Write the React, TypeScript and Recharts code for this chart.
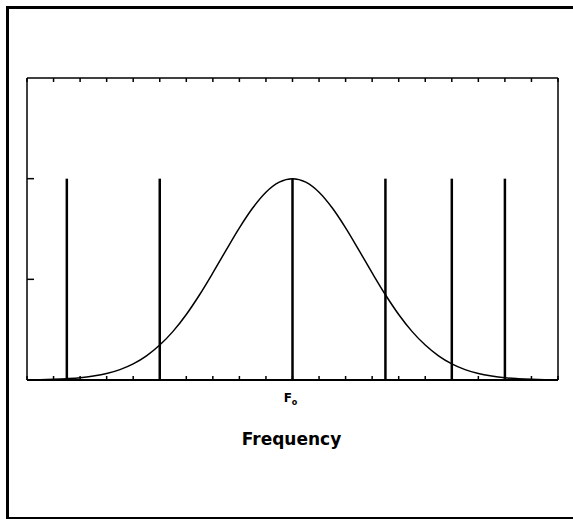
import { LineChart, Line, XAxis, YAxis, ReferenceLine } from 'recharts'

// curve, every half unit of frequency
const curveX = [0, 0.5, 1, 1.5, 2, 2.5, 3, 3.5, 4, 4.5, 5, 5.5, 6, 6.5, 7, 7.5, 8, 8.5, 9, 9.5, 10,
  10.5, 11, 11.5, 12, 12.5, 13, 13.5, 14, 14.5, 15, 15.5, 16, 16.5, 17, 17.5, 18, 18.5, 19, 19.5, 20]
const curveY = [0.001, 0.003, 0.007, 0.013, 0.022, 0.039, 0.064, 0.103, 0.16, 0.24, 0.347, 0.483, 0.651, 0.847, 1.064, 1.29, 1.511, 1.708, 1.865, 1.965, 2,
  1.965, 1.865, 1.708, 1.511, 1.29, 1.064, 0.847, 0.651, 0.483, 0.347, 0.24, 0.16, 0.103, 0.064, 0.039, 0.022, 0.013, 0.007, 0.003, 0.001]

const lineX = [1.5, 5, 10, 13.5, 16, 18]
const lineTop = 2

const xTicks = [0, 1, 2, 3, 4, 5, 6, 7, 8, 9, 10, 11, 12, 13, 14, 15, 16, 17, 18, 19, 20]
const yTicks = [1, 2]
const centerTick = 10

const data = curveX.map((x, i) => ({ x, y: curveY[i] }))

const FTick = ({ x, y, payload }: any) => {
  if (payload.value !== centerTick) return <g />
  return (
    <text x={x - 2} y={y + 24} textAnchor="middle" fontFamily="DejaVu Sans, sans-serif" fontWeight="bold" fontSize={12} fill="#000">
      F<tspan dy={3} fontSize={8}>o</tspan>
    </text>
  )
}

// tick marks only, no labels
const NoLabel = () => <g />

const frame = { stroke: '#000', strokeWidth: 1.5 }

export default function App() {
  return (
    <div style={{ position: 'absolute', left: 0, top: 0, width: 573, height: 519, overflow: 'hidden', background: '#fff' }}>
      <div style={{ position: 'absolute', left: 6, top: 6, width: 575, height: 508, borderLeft: '3px solid #000', borderTop: '3px solid #000', borderBottom: '2px solid #000' }} />
      <LineChart width={573} height={519} data={data} margin={{ top: 70, right: 7, bottom: 109, left: 19 }} style={{ position: 'absolute', left: 0, top: 0 }}>
        <XAxis dataKey="x" type="number" domain={[0, 20]} ticks={xTicks} height={30} interval={0}
          axisLine={{ stroke: '#000', strokeWidth: 2 }} tickLine={frame} tickSize={-4} tick={<FTick />} />
        <XAxis xAxisId="top" orientation="top" dataKey="x" type="number" domain={[0, 20]} ticks={xTicks} height={8} interval={0}
          axisLine={frame} tickLine={frame} tickSize={-4} tick={<NoLabel />} />
        <YAxis type="number" domain={[0, 3]} ticks={yTicks} width={8} interval={0}
          axisLine={frame} tickLine={frame} tickSize={-7} tick={<NoLabel />} />
        <YAxis yAxisId="right" orientation="right" type="number" domain={[0, 3]} ticks={yTicks} width={8} interval={0}
          axisLine={frame} tickLine={frame} tickSize={-6} tick={<NoLabel />} />
        {lineX.map(v => (
          <ReferenceLine key={v} segment={[{ x: v, y: 0 }, { x: v, y: lineTop }]} stroke="#000" strokeWidth={2.5} />
        ))}
        <Line type="monotone" dataKey="y" stroke="#000" strokeWidth={1.5} dot={false} isAnimationActive={false} />
      </LineChart>
      <div style={{ position: 'absolute', left: 0, width: 583, top: 429, textAlign: 'center', fontFamily: 'DejaVu Sans, sans-serif', fontWeight: 'bold', fontSize: 17 }}>
        Frequency
      </div>
    </div>
  )
}
